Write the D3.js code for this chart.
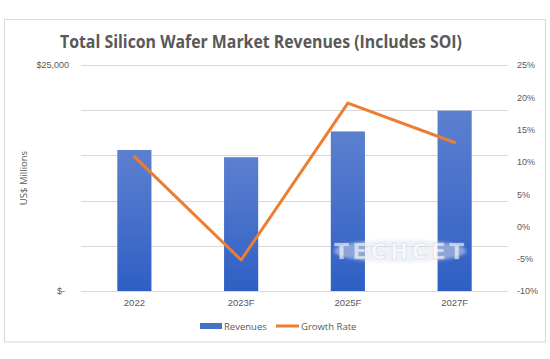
<!DOCTYPE html>
<html><head><meta charset="utf-8">
<script src="https://cdn.jsdelivr.net/npm/d3@7"></script>
<style>body{margin:0;background:#fff;}svg{display:block;font-family:"Open Sans",sans-serif;}</style>
</head><body><svg id="c" width="550" height="359"></svg>
<script>
const categories = ["2022","2023F","2025F","2027F"];
const revenues = [15600, 14800, 17650, 19950];
const growth = [10.8, -5.2, 19.1, 13.0];
const leftTicks = [0, 5000, 10000, 15000, 20000, 25000];
const leftLabels = {0:"$-", 25000:"$25,000"};
const rightTicks = [-10,-5,0,5,10,15,20,25];

const svg = d3.select("#c");
const m = {l:81, r:508, t:65, b:291};
svg.append("rect").attr("x",4.5).attr("y",19.5).attr("width",541).attr("height",322.5)
  .attr("fill","#fff").attr("stroke","#d9d9d9").attr("stroke-width",1);

const defs = svg.append("defs");
const g = defs.append("linearGradient").attr("id","bg").attr("x1",0).attr("y1",0).attr("x2",0).attr("y2",1);
g.append("stop").attr("offset","0%").attr("stop-color","#5c80cf");
g.append("stop").attr("offset","100%").attr("stop-color","#2f5fc4");
const blur = defs.append("filter").attr("id","blur").attr("x","-20%").attr("y","-50%").attr("width","140%").attr("height","200%");
blur.append("feGaussianBlur").attr("stdDeviation",1.5);

const x = d3.scaleBand().domain(categories).range([m.l, m.r]).paddingInner(0.68).paddingOuter(0.34);
const yL = d3.scaleLinear().domain([0,25000]).range([m.b, m.t]);
const yR = d3.scaleLinear().domain([-10,25]).range([m.b, m.t]);

svg.append("g").selectAll("line").data(leftTicks).join("line")
  .attr("x1",m.l).attr("x2",m.r).attr("y1",d=>Math.round(yL(d))+0.5).attr("y2",d=>Math.round(yL(d))+0.5)
  .attr("stroke","#d9d9d9").attr("stroke-width",1);

const gL = svg.append("g").attr("transform",`translate(69,0)`)
  .call(d3.axisLeft(yL).tickValues(leftTicks.filter(d=>leftLabels[d])).tickSize(0).tickFormat(d=>leftLabels[d]));
gL.select(".domain").remove();
gL.selectAll("text").attr("fill","#595959").style("font-size","9px").attr("x",0).attr("dx",d=>d===0?"-4":"0");

const gR = svg.append("g").attr("transform",`translate(517,0)`)
  .call(d3.axisRight(yR).tickValues(rightTicks).tickSize(0).tickFormat(d=>d+"%"));
gR.select(".domain").remove();
gR.selectAll("text").attr("fill","#595959").style("font-size","9px").attr("x",0);

const gX = svg.append("g").attr("transform",`translate(0,${m.b})`)
  .call(d3.axisBottom(x).tickSize(0).tickPadding(8));
gX.select(".domain").remove();
gX.selectAll("text").attr("fill","#595959").style("font-size","9.5px");

svg.append("g").selectAll("rect").data(categories).join("rect")
  .attr("x",d=>x(d)).attr("width",x.bandwidth())
  .attr("y",(d,i)=>yL(revenues[i])).attr("height",(d,i)=>m.b-yL(revenues[i]))
  .attr("fill","url(#bg)");

const wm = svg.append("g");
wm.append("ellipse").attr("cx",400).attr("cy",251).attr("rx",66).attr("ry",11.5)
  .attr("fill","#dfe4ee").attr("opacity",0.5).attr("filter","url(#blur)");
wm.append("text").attr("x",401).attr("y",259).attr("text-anchor","middle")
  .attr("fill","#ffffff").attr("fill-opacity",0.65).attr("stroke","#b8c0d0").attr("stroke-width",0.5).attr("stroke-opacity",0.6)
  .style("font-size","21px").style("font-weight","700").style("letter-spacing","4px")
  .style("font-family","'DejaVu Sans',sans-serif").text("TECHCET");

const line = d3.line().x((d,i)=>x(categories[i])+x.bandwidth()/2).y(d=>yR(d));
svg.append("path").datum(growth).attr("d",line).attr("fill","none")
  .attr("stroke","#ed7d31").attr("stroke-width",3).attr("stroke-linejoin","round").attr("stroke-linecap","round");

svg.append("text").attr("x",261).attr("y",48).attr("text-anchor","middle")
  .attr("fill","#595959").style("font-size","18px").style("font-weight","700")
  .attr("textLength",402).attr("lengthAdjust","spacingAndGlyphs")
  .text("Total Silicon Wafer Market Revenues (Includes SOI)");

svg.append("text").attr("transform","translate(27,178) rotate(-90)").attr("text-anchor","middle")
  .attr("fill","#595959").style("font-size","9.5px").text("US$ Millions");

const lg = svg.append("g");
lg.append("rect").attr("x",200).attr("y",323).attr("width",22).attr("height",6).attr("fill","#4472c4");
lg.append("text").attr("x",224).attr("y",329.5).attr("fill","#595959").style("font-size","9.5px").text("Revenues");
lg.append("line").attr("x1",276).attr("x2",299).attr("y1",326).attr("y2",326).attr("stroke","#ed7d31").attr("stroke-width",3);
lg.append("text").attr("x",301).attr("y",329.5).attr("fill","#595959").style("font-size","9.5px").text("Growth Rate");
</script></body></html>
